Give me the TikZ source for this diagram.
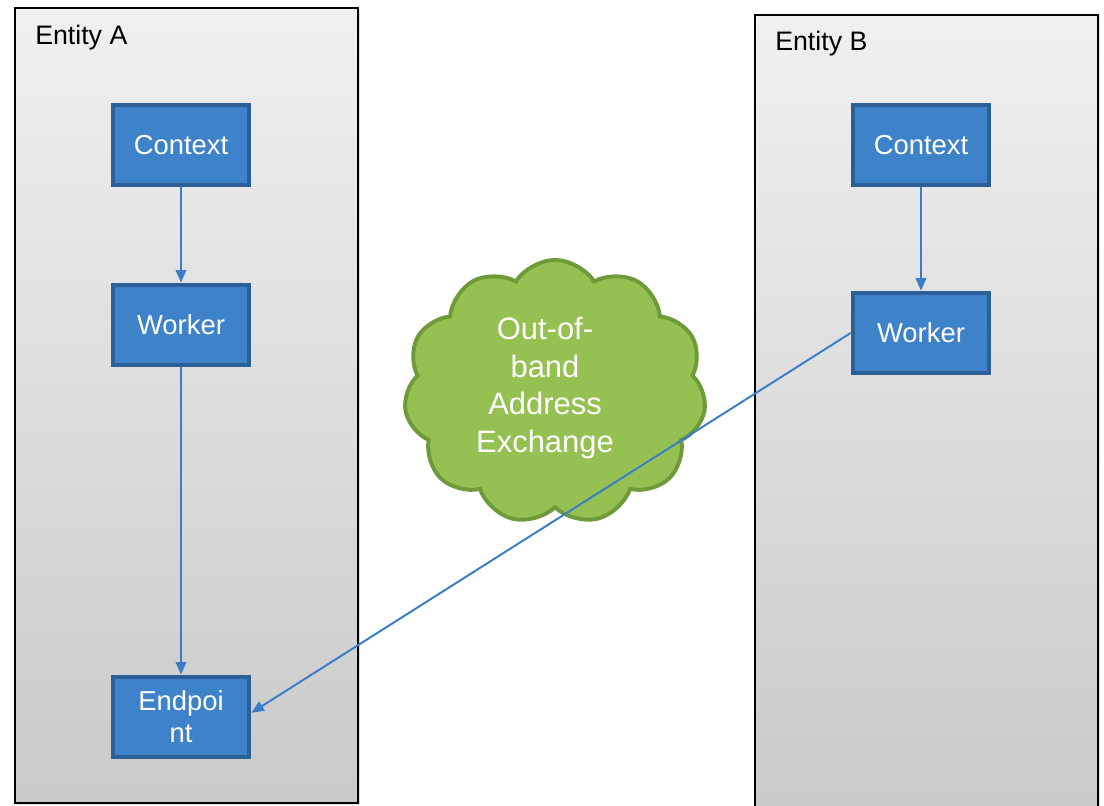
\documentclass[tikz,border=0pt]{standalone}
\usepackage{fontspec}
\setmainfont{Liberation Sans}
\usetikzlibrary{arrows.meta,shapes.symbols,shadows}

\definecolor{boxfill}{RGB}{62,130,201}
\definecolor{boxline}{RGB}{44,95,151}
\definecolor{linkblue}{RGB}{58,125,200}
\definecolor{cloudfill}{RGB}{149,193,82}
\definecolor{cloudline}{RGB}{111,154,58}

\tikzset{
  entity/.style={draw=black, line width=1pt, top color=black!6, bottom color=black!21,
    drop shadow={shadow xshift=1.5pt, shadow yshift=-1.5pt, opacity=0.25}},
  entitylabel/.style={anchor=west, font=\fontsize{19}{22}\selectfont, inner sep=0pt},
  block/.style={draw=boxline, fill=boxfill, line width=3.3pt, text=white,
    minimum width=3.4cm, minimum height=2.0cm, align=center,
    font=\fontsize{19.5}{22.7}\selectfont},
  link/.style={draw=linkblue, line width=1.4pt, -{Triangle[length=9pt,width=7.5pt]}},
  oobcloud/.style={cloud, cloud puffs=11, cloud puff arc=115, aspect=1.1,
    draw=cloudline, fill=cloudfill, line width=2.8pt,
    minimum width=7.55cm, minimum height=6.6cm, inner sep=0pt},
  cloudtext/.style={text=white, align=center, inner sep=0pt,
    font=\fontsize{22}{27}\selectfont}
}

\begin{document}
\begin{tikzpicture}[x=0.025cm, y=-0.025cm]
  \clip (0,0) rectangle (1104,806);

  % Draw the two entities
  \draw[entity] (15,8) rectangle (358,803);
  \draw[entity] (755,15) rectangle (1098,815);
  \node[entitylabel] (labA) at (35,38) {Entity A};
  \node[entitylabel] (labB) at (775,44) {Entity B};

  % Blocks of entity A
  \node[block] (ctxA) at (181,145) {Context};
  \node[block] (wrkA) at (181,325) {Worker};
  \node[block] (ep) at (181,717) {Endpoi\\nt};

  % Blocks of entity B
  \node[block] (ctxB) at (921,145) {Context};
  \node[block] (wrkB) at (921,333) {Worker};

  % Out-of-band cloud
  \node[oobcloud] (oob) at (555,392) {};
  \node[cloudtext] (oobtxt) at (545,388) {Out-of-\\band\\Address\\Exchange};

  % Connectors
  \draw[link] (ctxA) -- (wrkA);
  \draw[link] (wrkA) -- (ep);
  \draw[link] (ctxB) -- (wrkB);
  \draw[link] (wrkB.west) -- ([yshift=3pt]ep.east);

\end{tikzpicture}
\end{document}
